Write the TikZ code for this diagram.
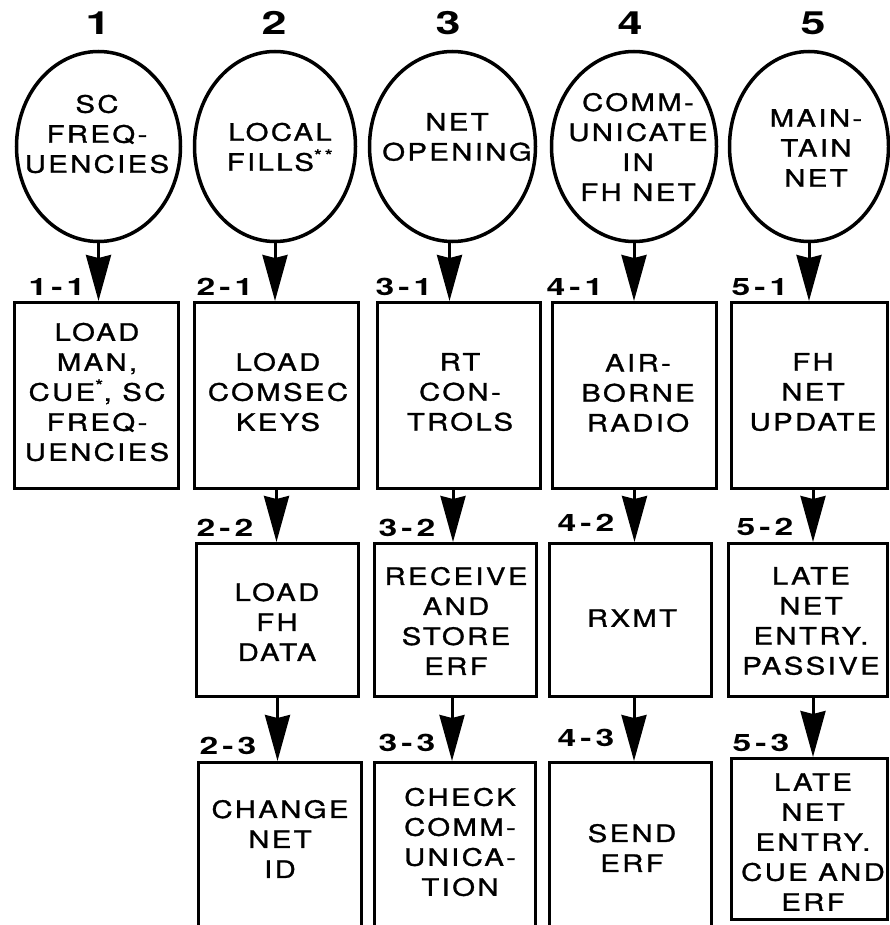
\documentclass[tikz,border=0pt]{standalone}
\usepackage{fontspec}
\setmainfont{TeX Gyre Heros}
\newfontfamily\boxfont[FakeStretch=1.22,LetterSpace=10,FakeBold=1.2]{TeX Gyre Heros}
\newfontfamily\labfont[FakeStretch=1.4]{TeX Gyre Heros}
\usetikzlibrary{shapes.geometric,arrows.meta}
\begin{document}
\begin{tikzpicture}[x=1pt,y=-1pt,
  oval/.style={ellipse, draw, line width=3.5pt, inner sep=0pt},
  box/.style={rectangle, draw, line width=3pt, inner sep=0pt},
  txt/.style={align=center, font=\boxfont\fontsize{24}{30}\selectfont, inner sep=0pt},
  num/.style={font=\labfont\bfseries\fontsize{32}{34}\selectfont, inner sep=0pt},
  lab/.style={font=\labfont\bfseries\fontsize{24}{26}\selectfont, inner sep=0pt},
  flow/.style={line width=3pt, -{Stealth[length=46pt,width=25pt,inset=3pt]}}]
\useasboundingbox (0,0) rectangle (890,925);
\clip (0,0) rectangle (890,925);
% column numbers
\node[num] (n1) at (98,23) {1};
\node[num] (n2) at (274,23) {2};
\node[num] (n3) at (448,23) {3};
\node[num] (n4) at (630,23) {4};
\node[num] (n5) at (813,23) {5};
% ellipses
\node[oval, minimum width=164pt, minimum height=190pt] (e1) at (98.5,146.5) {};
\node[oval, minimum width=161pt, minimum height=190pt] (e2) at (275,146.5) {};
\node[oval, minimum width=166pt, minimum height=190pt] (e3) at (452.5,146.5) {};
\node[oval, minimum width=165pt, minimum height=190pt] (e4) at (634,146.5) {};
\node[oval, minimum width=159pt, minimum height=190pt] (e5) at (809,146.5) {};
\node[txt] (t1) at (97,134) {SC\\FREQ-\\UENCIES};
\node[txt] (t2) at (280,147) {LOCAL\\FILLS\textsuperscript{*\,*}};
\node[txt] (t3) at (457,137) {NET\\OPENING};
\node[txt] (t4) at (638,147) {COMM-\\UNICATE\\IN\\FH NET};
\node[txt] (t5) at (816,148) {MAIN-\\TAIN\\NET};
% row 1 boxes
\node[box, minimum width=164pt, minimum height=186pt] (b11) at (96.5,395.5) {};
\node[box, minimum width=164pt, minimum height=186pt] (b21) at (276.5,395.5) {};
\node[box, minimum width=163pt, minimum height=186pt] (b31) at (459,395.5) {};
\node[box, minimum width=164pt, minimum height=186pt] (b41) at (634.5,395.5) {};
\node[box, minimum width=156pt, minimum height=186pt] (b51) at (809.5,395.5) {};
% row 2 boxes
\node[box, minimum width=162pt, minimum height=153pt] (b22) at (277.5,620) {};
\node[box, minimum width=162pt, minimum height=153pt] (b32) at (455.5,620) {};
\node[box, minimum width=162pt, minimum height=153pt] (b42) at (630.5,620) {};
\node[box, minimum width=159pt, minimum height=153pt] (b52) at (808,620) {};
% row 3 boxes
\node[box, minimum width=163pt, minimum height=181pt] (b23) at (280,853) {};
\node[box, minimum width=161pt, minimum height=181pt] (b33) at (455,853) {};
\node[box, minimum width=162pt, minimum height=181pt] (b43) at (630.5,853) {};
\node[box, minimum width=156pt, minimum height=161pt] (b53) at (809.5,839) {};
% box texts
\node[txt] (u11) at (97,392) {LOAD\\MAN,\\CUE\textsuperscript{*}, SC\\FREQ-\\UENCIES};
\node[txt] (u21) at (278,392) {LOAD\\COMSEC\\KEYS};
\node[txt] (u31) at (460,392) {RT\\CON-\\TROLS};
\node[txt] (u41) at (638,393) {AIR-\\BORNE\\RADIO};
\node[txt] (u51) at (813,392) {FH\\NET\\UPDATE};
\node[txt] (u22) at (277,622) {LOAD\\FH\\DATA};
\node[txt] (u32) at (456,621) {RECEIVE\\AND\\STORE\\ERF};
\node[txt] (u42) at (632,618) {RXMT};
\node[txt] (u52) at (811,621) {LATE\\NET\\ENTRY.\\PASSIVE};
\node[txt] (u23) at (280,839) {CHANGE\\NET\\ID};
\node[txt] (u33) at (460,842) {CHECK\\COMM-\\UNICA-\\TION};
\node[txt] (u43) at (632,848) {SEND\\ERF};
\node[txt] (u53) at (813,842) {LATE\\NET\\ENTRY.\\CUE AND\\ERF};
% labels
\node[lab] (l11) at (57,287) {1\,-\,1};
\node[lab] (l21) at (225,287) {2\,-\,1};
\node[lab] (l31) at (404,287) {3\,-\,1};
\node[lab] (l41) at (575,287) {4\,-\,1};
\node[lab] (l51) at (760,287) {5\,-\,1};
\node[lab] (l22) at (225,528) {2\,-\,2};
\node[lab] (l32) at (407,528) {3\,-\,2};
\node[lab] (l42) at (586,523) {4\,-\,2};
\node[lab] (l52) at (765,527) {5\,-\,2};
\node[lab] (l23) at (228,746) {2\,-\,3};
\node[lab] (l33) at (407,743) {3\,-\,3};
\node[lab] (l43) at (586,738) {4\,-\,3};
\node[lab] (l53) at (761,743) {5\,-\,3};
% arrows
\draw[flow] (e1.south) -- (e1.south |- b11.north);
\draw[flow] (e2.south) -- (e2.south |- b21.north);
\draw[flow] ([xshift=-3pt]e3.south) -- ([xshift=-3pt]e3.south |- b31.north);
\draw[flow] (e4.south) -- (e4.south |- b41.north);
\draw[flow] (e5.south) -- (e5.south |- b51.north);
\draw[flow] (b21.south) -- (b21.south |- b22.north);
\draw[flow] ([xshift=-6pt]b31.south) -- ([xshift=-6pt]b31.south |- b32.north);
\draw[flow] (b41.south) -- (b41.south |- b42.north);
\draw[flow] ([xshift=3.5pt]b51.south) -- ([xshift=3.5pt]b51.south |- b52.north);
\draw[flow] (b22.south) -- (b22.south |- b23.north);
\draw[flow] ([xshift=-3.5pt]b32.south) -- ([xshift=-3.5pt]b32.south |- b33.north);
\draw[flow] ([xshift=3.5pt]b42.south) -- ([xshift=3.5pt]b42.south |- b43.north);
\draw[flow] ([xshift=5pt]b52.south) -- ([xshift=5pt]b52.south |- b53.north);
\end{tikzpicture}
\end{document}
